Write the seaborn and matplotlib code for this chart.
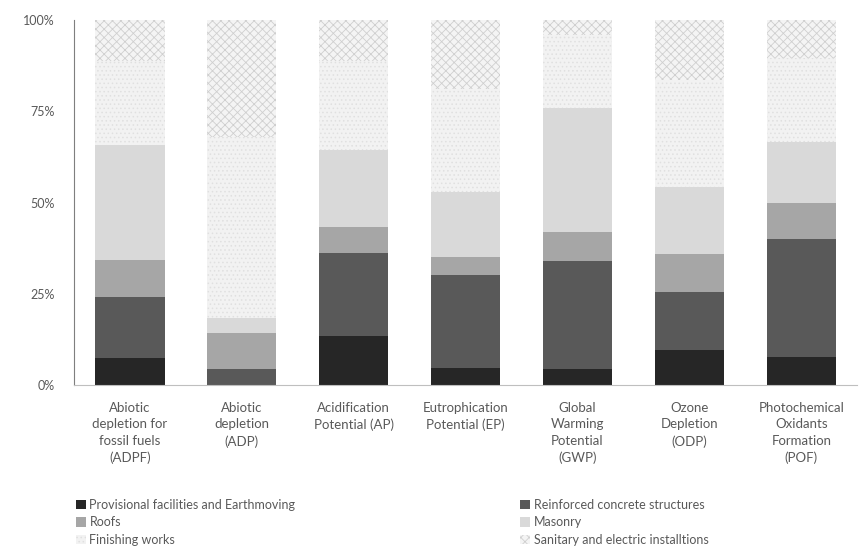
import matplotlib
matplotlib.use("Agg")
import matplotlib.pyplot as plt
import seaborn as sns
import numpy as np

categories = [
    "Abiotic\ndepletion for\nfossil fuels\n(ADPF)",
    "Abiotic\ndepletion\n(ADP)",
    "Acidification\nPotential (AP)",
    "Eutrophication\nPotential (EP)",
    "Global\nWarming\nPotential\n(GWP)",
    "Ozone\nDepletion\n(ODP)",
    "Photochemical\nOxidants\nFormation\n(POF)",
]

series_names = [
    "Provisional facilities and Earthmoving",
    "Reinforced concrete structures",
    "Roofs",
    "Masonry",
    "Finishing works",
    "Sanitary and electric installtions",
]

provisional = [7.4, 0.0, 13.4, 4.7, 4.4, 9.6, 7.7]
reinforced = [16.7, 4.4, 22.8, 25.4, 29.6, 15.9, 32.3]
roofs = [10.1, 9.8, 7.1, 5.0, 8.0, 10.4, 9.9]
masonry = [31.6, 4.2, 21.1, 17.8, 33.9, 18.3, 16.7]
finishing = [23.0, 49.6, 24.4, 28.1, 20.0, 29.4, 23.0]
sanitary = [11.2, 32.0, 11.2, 19.0, 4.1, 16.4, 10.4]

layers = [provisional, reinforced, roofs, masonry, finishing, sanitary]
fills = ["#262626", "#595959", "#a6a6a6", "#d9d9d9", "#f2f2f2", "#f4f4f4"]
hatches = [None, None, None, None, "....", "xxxx"]
edges = ["#262626", "#595959", "#a6a6a6", "#d9d9d9", "#e0e0e0", "#cfcfcf"]

sns.set_style("white")
plt.rcParams["font.family"] = ["Lato", "DejaVu Sans"]
plt.rcParams["hatch.linewidth"] = 0.6

fig, ax = plt.subplots(figsize=(8.59, 5.55), dpi=100)
fig.subplots_adjust(left=0.086, right=0.998, top=0.964, bottom=0.306)

bottom = np.zeros(len(categories))
for vals, name, fc, hc, ec in zip(layers, series_names, fills, hatches, edges):
    sns.barplot(x=categories, y=vals, bottom=bottom, color=fc, ax=ax,
                width=0.62, hatch=hc, edgecolor=ec, linewidth=0,
                saturation=1, label=name)
    bottom = bottom + np.array(vals)

ax.set_ylim(0, 100)
ax.set_yticks([0, 25, 50, 75, 100])
ax.set_yticklabels(["0%", "25%", "50%", "75%", "100%"])
ax.tick_params(axis="both", length=0, labelsize=9, colors="#595959")
ax.tick_params(axis="y", pad=14)
ax.tick_params(axis="x", pad=12, labelsize=9.5)
for t in ax.get_xticklabels():
    t.set_linespacing(1.45)
for s in ["top", "right"]:
    ax.spines[s].set_visible(False)
ax.spines["left"].set_color("#7f7f7f")
ax.spines["bottom"].set_color("#bfbfbf")

h, l = ax.get_legend_handles_labels()
order = [0, 2, 4, 1, 3, 5]
leg = ax.legend([h[i] for i in order], [l[i] for i in order], ncol=2,
                loc="upper left", bbox_to_anchor=(-0.012, -0.28),
                frameon=False, fontsize=9, handlelength=0.8,
                handleheight=0.8, handletextpad=0.3, columnspacing=18.0,
                labelspacing=0.45, labelcolor="#595959")

fig.savefig("out.png", dpi=100)
